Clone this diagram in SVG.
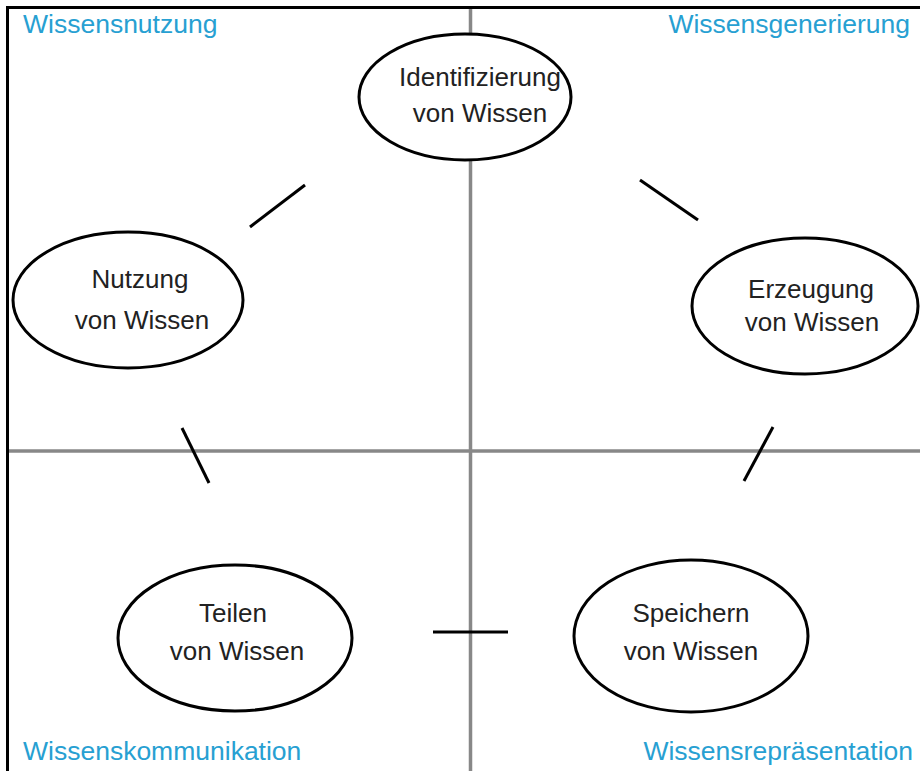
<svg xmlns="http://www.w3.org/2000/svg" width="920" height="771" viewBox="0 0 920 771">
  <style>
    .frame { stroke: #000; stroke-width: 3; fill: none; }
    .axis { stroke: #888; stroke-width: 3.5; fill: none; }
    .node ellipse { fill: #fff; stroke: #000; stroke-width: 3; }
    .node text { font-family: "Liberation Sans", Arial, sans-serif; font-size: 26px; fill: #222; text-anchor: middle; }
    .link { stroke: #000; stroke-width: 3; fill: none; }
    .area { font-family: "Liberation Sans", Arial, sans-serif; font-size: 26.5px; fill: #27a0d2; }
  </style>
  <rect width="920" height="771" fill="#fff"/>

  <!-- outer frame -->
  <path class="frame" d="M7.5 771 V7.5 H920"/>

  <!-- quadrant axes -->
  <g id="axes">
    <line class="axis" x1="470.5" y1="9" x2="470.5" y2="771"/>
    <line class="axis" x1="9" y1="451" x2="920" y2="451"/>
  </g>

  <!-- quadrant labels -->
  <g id="labels">
    <text class="area" x="23" y="33">Wissensnutzung</text>
    <text class="area" x="910" y="33" text-anchor="end">Wissensgenerierung</text>
    <text class="area" x="23" y="760">Wissenskommunikation</text>
    <text class="area" x="913" y="760" text-anchor="end">Wissensrepräsentation</text>
  </g>

  <!-- connectors -->
  <g id="connectors">
    <line class="link" x1="250" y1="227" x2="305" y2="185"/>
    <line class="link" x1="640" y1="180" x2="698" y2="220"/>
    <line class="link" x1="182" y1="428" x2="209" y2="483"/>
    <line class="link" x1="773" y1="427" x2="744" y2="481"/>
    <line class="link" x1="433" y1="632" x2="508" y2="632"/>
  </g>

  <g id="identifizierung" class="node">
    <ellipse cx="465" cy="97" rx="106" ry="63"/>
    <text x="480" y="86">Identifizierung</text>
    <text x="480" y="122">von Wissen</text>
  </g>

  <g id="nutzung" class="node">
    <ellipse cx="128" cy="300" rx="115" ry="68"/>
    <text x="140" y="288">Nutzung</text>
    <text x="142" y="329">von Wissen</text>
  </g>

  <g id="erzeugung" class="node">
    <ellipse cx="805" cy="306" rx="113" ry="68"/>
    <text x="811" y="298">Erzeugung</text>
    <text x="812" y="331">von Wissen</text>
  </g>

  <g id="teilen" class="node">
    <ellipse cx="235" cy="638" rx="117" ry="73"/>
    <text x="233" y="622">Teilen</text>
    <text x="237" y="660">von Wissen</text>
  </g>

  <g id="speichern" class="node">
    <ellipse cx="691" cy="636" rx="117" ry="76"/>
    <text x="691" y="622">Speichern</text>
    <text x="691" y="660">von Wissen</text>
  </g>
</svg>
